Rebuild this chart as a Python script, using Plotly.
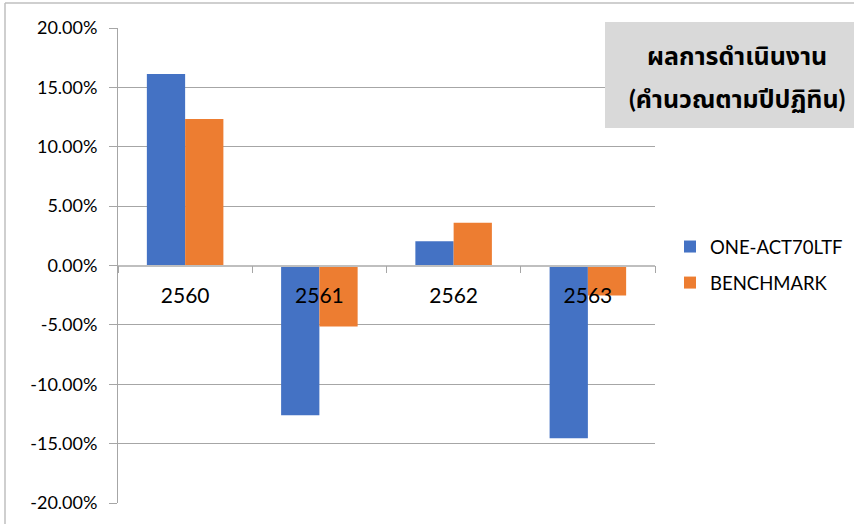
import plotly.graph_objects as go

categories = ["2560", "2561", "2562", "2563"]
fund_name = "ONE-ACT70LTF"
bench_name = "BENCHMARK"
fund_values = [0.1613, -0.1260, 0.0204, -0.1454]
bench_values = [0.1233, -0.0513, 0.0360, -0.0252]
y_ticks = [-0.20, -0.15, -0.10, -0.05, 0.0, 0.05, 0.10, 0.15, 0.20]
y_tick_labels = [f"{v*100:.2f}%" for v in y_ticks]
title_lines = ["ผลการดำเนินงาน", "(คำนวณตามปีปฏิทิน)"]

W, H = 854, 524
L, R, T, B = 118, 199, 28, 21
pw, ph = W - L - R, H - T - B

def px(x):
    return (x - L) / pw

def py(y):
    return (H - B - y) / ph

font = "Lato, 'Noto Sans', 'Noto Sans Thai', sans-serif"

fig = go.Figure()
fig.add_bar(x=categories, y=fund_values, name=fund_name, legendgroup="fund",
            marker=dict(color="#4472C4", line=dict(width=0)))
fig.add_bar(x=categories, y=bench_values, name=bench_name, legendgroup="bench",
            marker=dict(color="#ED7D31", line=dict(width=0)))

fig.update_layout(
    width=W, height=H,
    margin=dict(l=L, r=R, t=T, b=B, autoexpand=False),
    paper_bgcolor="white", plot_bgcolor="white",
    barmode="group", bargap=0.43, bargroupgap=0,
    font=dict(family=font, size=18, color="#000000"),
    showlegend=True,
    legend=dict(x=px(670), y=py(228), xanchor="left", yanchor="top",
                font=dict(size=18.5, color="#000000"),
                itemsizing="constant", tracegroupgap=9,
                bgcolor="rgba(0,0,0,0)"),
    xaxis=dict(type="category", anchor="free", position=0.5,
               showline=True, linecolor="#BFBFBF", linewidth=1.5,
               ticks="outside", tickson="boundaries", ticklen=7,
               tickcolor="#A6A6A6", tickwidth=1,
               ticklabelstandoff=12,
               tickfont=dict(size=21, color="#000000"),
               showgrid=False, zeroline=False),
    yaxis=dict(range=[-0.20, 0.20], tickvals=y_ticks, ticktext=y_tick_labels,
               showline=True, linecolor="#A6A6A6", linewidth=1,
               ticks="outside", ticklen=8, tickcolor="#A6A6A6",
               showgrid=True, gridcolor="#A6A6A6", gridwidth=1,
               zeroline=False,
               tickfont=dict(size=18, color="#000000"), ticklabelstandoff=8),
)

# outer chart border (left and top visible)
fig.add_shape(type="line", xref="paper", yref="paper",
              x0=px(5), x1=px(860), y0=py(3), y1=py(3),
              line=dict(color="#BFBFBF", width=1.5))
fig.add_shape(type="line", xref="paper", yref="paper",
              x0=px(5), x1=px(5), y0=py(3), y1=py(530),
              line=dict(color="#BFBFBF", width=1.5))

# title box
fig.add_shape(type="rect", xref="paper", yref="paper",
              x0=px(605), x1=px(860), y0=py(22), y1=py(128),
              fillcolor="#D9D9D9", line=dict(width=0), layer="above")
fig.add_annotation(xref="paper", yref="paper", x=px(737), y=py(55),
                   text=f"<b>{title_lines[0]}</b>", showarrow=False,
                   xanchor="center", yanchor="middle",
                   font=dict(size=25, color="#000000"))
fig.add_annotation(xref="paper", yref="paper", x=px(737), y=py(98),
                   text=f"<b>{title_lines[1]}</b>", showarrow=False,
                   xanchor="center", yanchor="middle",
                   font=dict(size=25, color="#000000"))

fig.write_html("out.html")
